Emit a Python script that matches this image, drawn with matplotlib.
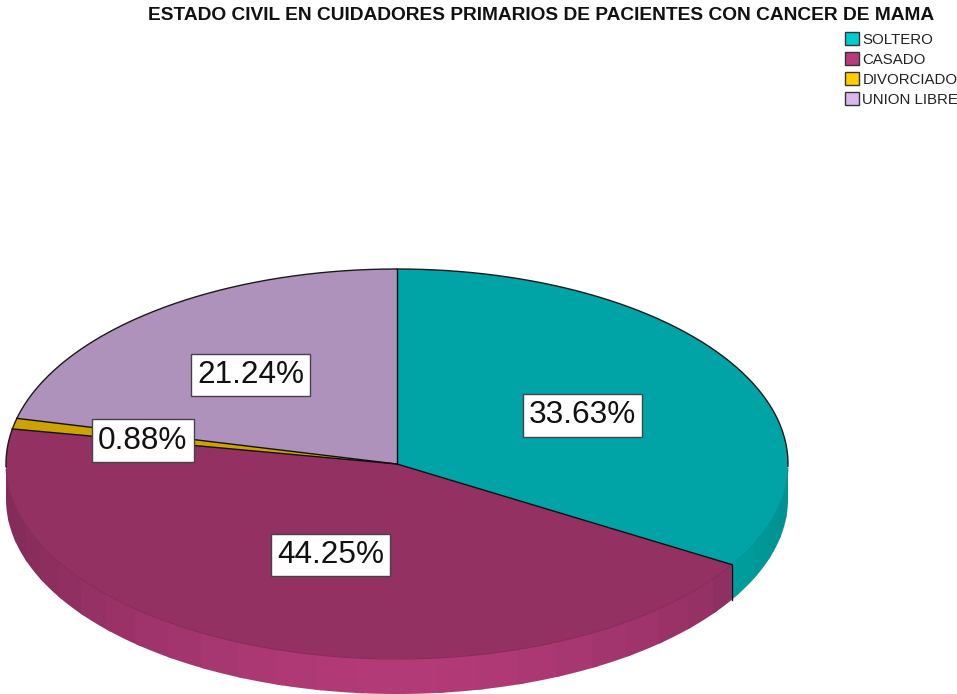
import numpy as np
import matplotlib
matplotlib.use("Agg")
import matplotlib.pyplot as plt
from matplotlib.patches import Patch

title = "ESTADO CIVIL EN CUIDADORES PRIMARIOS DE PACIENTES CON CANCER DE MAMA"
categories = ["SOLTERO", "CASADO", "DIVORCIADO", "UNION LIBRE"]
values = [33.63, 44.25, 0.88, 21.24]
legend_colors = ["#00CCCC", "#B83C7C", "#FFCC00", "#D9B8EE"]
top_colors = ["#00A3A6", "#933163", "#CCA300", "#AE92BC"]
label_radius = [0.545, 0.48, 0.665, 0.605]

W, H = 957, 694
cx, cy, rx, ry, depth = 397, 464, 391, 195, 35

plt.rcParams["font.family"] = ["Liberation Sans", "DejaVu Sans"]
fig = plt.figure(figsize=(W / 100, H / 100), dpi=100, facecolor="white")
ax = fig.add_axes([0, 0, 1, 1])

d = depth / ry
angles = 90 - np.cumsum([0] + values) / sum(values) * 360
step = 6

# side wall: shaded facets along the front half of the rim
for i, col in enumerate(legend_colors):
    rgb = np.array(matplotlib.colors.to_rgb(col))
    a0, a1 = angles[i + 1], angles[i]
    for k in range(-180, 0, step):
        l2, h2 = max(k, a0), min(k + step + 1, a1, 0)
        if h2 <= l2:
            continue
        t = np.radians(np.linspace(l2, h2, 6))
        mid = np.radians(k + step / 2)
        f = 0.71 + 0.25 * np.sin(mid) ** 2
        xs = np.r_[np.cos(t), np.cos(t[::-1])]
        ys = np.r_[np.sin(t) + 0.003, np.sin(t[::-1]) - d]
        ax.fill(xs, ys, color=rgb * f, lw=0, zorder=1 + (k + 180) * 1e-4)

wedges, _ = ax.pie(values, colors=top_colors, startangle=90, counterclock=False,
                   radius=1, wedgeprops=dict(edgecolor="none", linewidth=0))
for w in wedges:
    w.set_zorder(2)

# spokes, back rim (dark) and front rim (same tone as the slice, barely visible)
for i, tc in enumerate(top_colors):
    a = np.radians(angles[i])
    ax.plot([0, np.cos(a)], [0, np.sin(a)], color="#101010", lw=1.0, zorder=3)
    t = np.radians(np.linspace(angles[i + 1], angles[i], 200))
    back = np.sin(t) >= -0.02
    ax.plot(np.cos(t[back]), np.sin(t[back]), color="#1a1a1a", lw=1.0, zorder=3)
    rim = np.array(matplotlib.colors.to_rgb(tc)) * 0.92
    front = np.sin(t) < -0.02
    ax.plot(np.cos(t[front]), np.sin(t[front]), color=rim, lw=0.8, zorder=2.5)

# vertical edge where the first slice meets the second on the rim
t = np.radians(angles[1])
ax.plot([np.cos(t)] * 2, [np.sin(t), np.sin(t) - d], color="#101010", lw=1.0, zorder=3)

ax.set_aspect("auto")
ax.set_xlim(-cx / rx, (W - cx) / rx)
ax.set_ylim(-(H - cy) / ry, cy / ry)
ax.axis("off")

for i, v in enumerate(values):
    m = np.radians((angles[i] + angles[i + 1]) / 2)
    ax.text(label_radius[i] * np.cos(m), label_radius[i] * np.sin(m), f"{v:.2f}%",
            fontsize=22.7, ha="center", va="center_baseline", color="#111111", zorder=5,
            bbox=dict(boxstyle="square,pad=0.2", fc="white", ec="#444444", lw=1.0))

fig.text(541 / W, 1 - 15 / H, title, fontsize=13.75, fontweight="bold",
         ha="center", va="center", color="#111111")

handles = [Patch(facecolor=c, edgecolor="#333333", lw=1.0) for c in legend_colors]
fig.legend(handles, categories, loc="upper left", bbox_to_anchor=(845 / W, 1 - 32 / H),
           bbox_transform=fig.transFigure, frameon=False, fontsize=10.8,
           borderpad=0, borderaxespad=0, handlelength=0.95, handleheight=0.95,
           handletextpad=0.2, labelspacing=0.36, labelcolor="#222222")

fig.savefig("out.png", dpi=100)
